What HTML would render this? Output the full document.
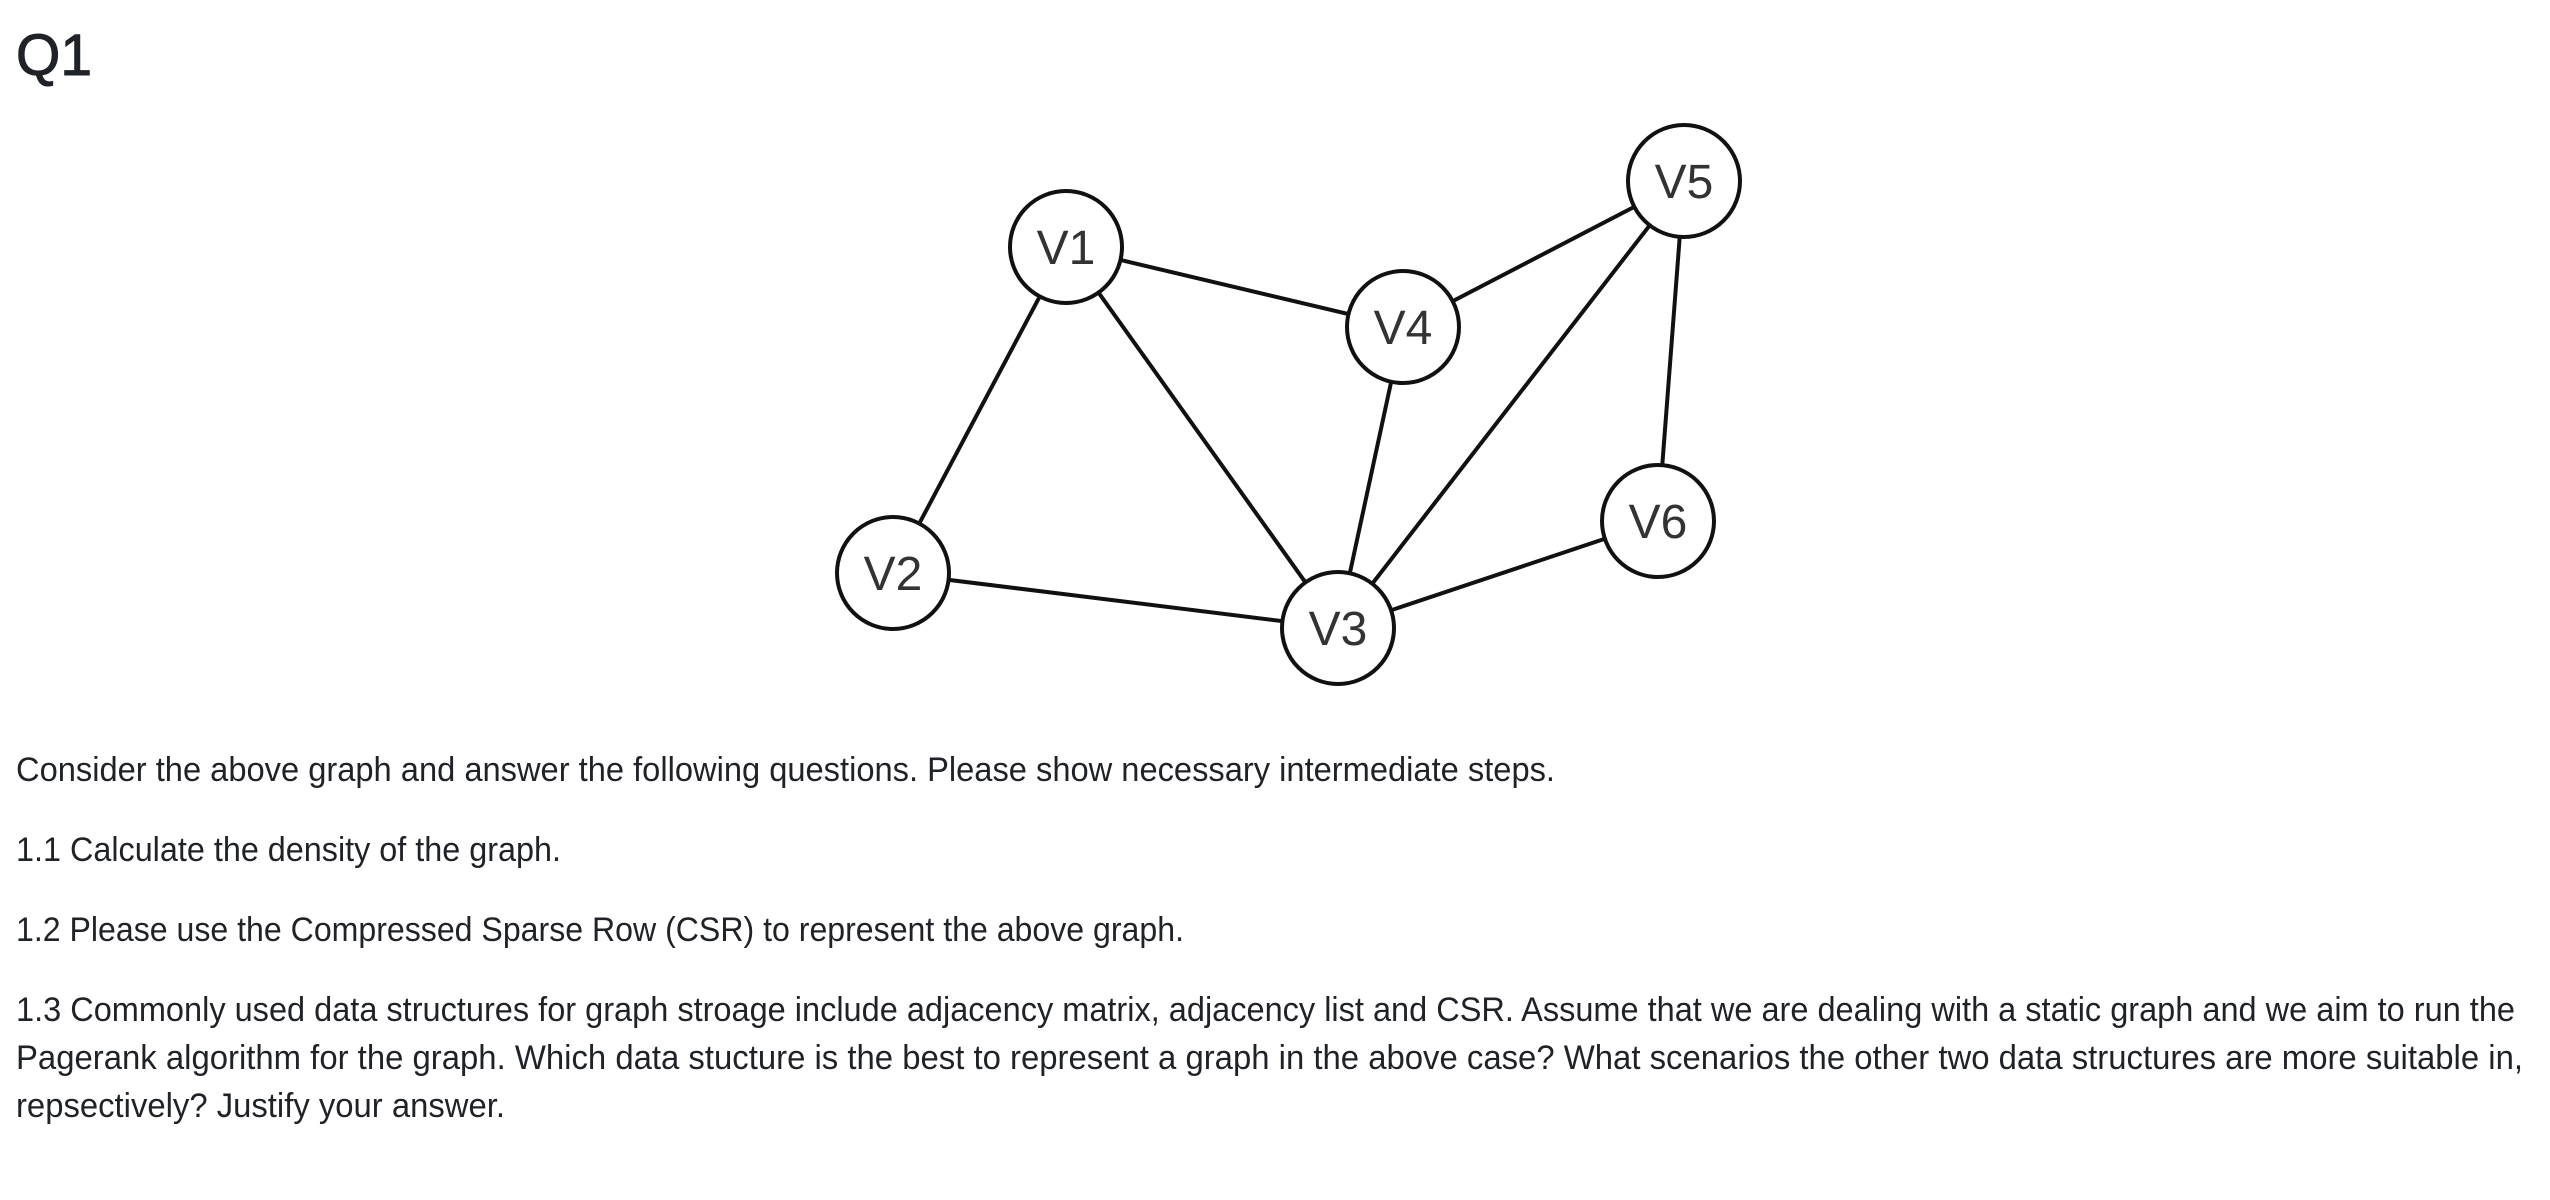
<!DOCTYPE html>
<html><head><meta charset="utf-8"><style>
html,body{margin:0;padding:0;background:#fff;}
svg{display:block;}
</style></head><body>
<svg width="2550" height="1200" viewBox="0 0 2550 1200" xmlns="http://www.w3.org/2000/svg">
<rect width="2550" height="1200" fill="#fff"/>
<text x="16" y="75" font-family="Liberation Sans, sans-serif" font-size="58" fill="#1f2328" stroke="#1f2328" stroke-width="1" textLength="76" lengthAdjust="spacingAndGlyphs">Q1</text>
<g stroke="#111" stroke-width="4" fill="none">
<line x1="1066" y1="247" x2="893" y2="573"/>
<line x1="1066" y1="247" x2="1403" y2="327"/>
<line x1="1066" y1="247" x2="1338" y2="628"/>
<line x1="1403" y1="327" x2="1684" y2="181"/>
<line x1="1403" y1="327" x2="1338" y2="628"/>
<line x1="1684" y1="181" x2="1338" y2="628"/>
<line x1="1684" y1="181" x2="1658" y2="521"/>
<line x1="1658" y1="521" x2="1338" y2="628"/>
<line x1="893" y1="573" x2="1338" y2="628"/>
</g>
<g stroke="#111" stroke-width="4" fill="#fff">
<circle cx="1066" cy="247" r="56"/>
<circle cx="1403" cy="327" r="56"/>
<circle cx="1684" cy="181" r="56"/>
<circle cx="1658" cy="521" r="56"/>
<circle cx="893" cy="573" r="56"/>
<circle cx="1338" cy="628" r="56"/>
</g>
<g font-family="Liberation Sans, sans-serif" font-size="48" fill="#333" text-anchor="middle">
<text x="1066" y="264">V1</text>
<text x="1403" y="344">V4</text>
<text x="1684" y="198">V5</text>
<text x="1658" y="538">V6</text>
<text x="893" y="590">V2</text>
<text x="1338" y="645">V3</text>
</g>
<g font-family="Liberation Sans, sans-serif" font-size="34" fill="#1f2328">
<text x="16" y="781" textLength="1539" lengthAdjust="spacingAndGlyphs">Consider the above graph and answer the following questions. Please show necessary intermediate steps.</text>
<text x="16" y="861" textLength="545" lengthAdjust="spacingAndGlyphs">1.1 Calculate the density of the graph.</text>
<text x="16" y="941" textLength="1168" lengthAdjust="spacingAndGlyphs">1.2 Please use the Compressed Sparse Row (CSR) to represent the above graph.</text>
<text x="16" y="1021" textLength="2499" lengthAdjust="spacingAndGlyphs">1.3 Commonly used data structures for graph stroage include adjacency matrix, adjacency list and CSR. Assume that we are dealing with a static graph and we aim to run the</text>
<text x="16" y="1069" textLength="2507" lengthAdjust="spacingAndGlyphs">Pagerank algorithm for the graph. Which data stucture is the best to represent a graph in the above case? What scenarios the other two data structures are more suitable in,</text>
<text x="16" y="1117" textLength="489" lengthAdjust="spacingAndGlyphs">repsectively? Justify your answer.</text>
</g>
</svg>
</body></html>
